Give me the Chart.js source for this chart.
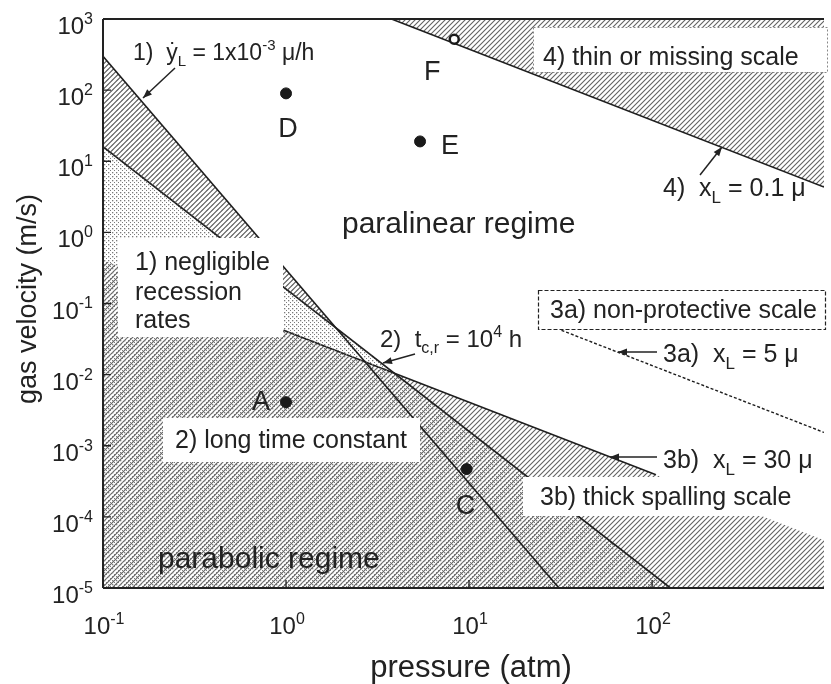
<!DOCTYPE html>
<html><head><meta charset="utf-8">
<script src="https://cdn.jsdelivr.net/npm/chart.js@4.4.0/dist/chart.umd.min.js"></script>
<style>html,body{margin:0;padding:0;background:#fff;}canvas{display:block;}</style>
</head><body>
<canvas id="c" width="831" height="684"></canvas>
<script>
const FONT = '"Liberation Sans", Arial, Helvetica, sans-serif';

// ---- tick values ----
const xTicks = [0.1, 1, 10, 100];
const xTickExp = ['-1', '0', '1', '2'];
const yTicks = [1e-5, 1e-4, 1e-3, 1e-2, 1e-1, 1, 10, 100, 1000];
const yTickExp = ['-5', '-4', '-3', '-2', '-1', '0', '1', '2', '3'];

// ---- boundary lines (pressure atm, gas velocity m/s) ----
const line1X = [0.1, 31];        const line1Y = [300, 1e-5];      // 1) yL = 1e-3 u/h (slope -3)
const line2X = [0.1, 126];       const line2Y = [16, 1e-5];       // 2) tc,r = 1e4 h (slope -2)
const line3bX = [0.97, 105];     const line3bY = [0.042, 3.9e-4]; // 3b) xL = 30 u
const line3bAreaX = [0.1, 870];  const line3bAreaY = [0.41, 4.7e-5];
const line3aX = [32, 870];       const line3aY = [0.042, 1.54e-3]; // 3a) xL = 5 u
const line4X = [3.77, 870];      const line4Y = [1000, 4.33];      // 4) xL = 0.1 u

// ---- cases ----
const pointNames = ['A', 'C', 'D', 'E'];
const pointX = [1.0, 9.7, 1.0, 5.4];
const pointY = [4.1e-3, 4.7e-4, 90, 19];
const openNames = ['F'];
const openX = [8.3];
const openY = [520];

const xy = (xs, ys) => xs.map((v, i) => ({x: v, y: ys[i]}));

function makePattern(kind) {
  const c = document.createElement('canvas');
  const s = kind === 'S' ? 4 : 5;
  c.width = s; c.height = s;
  const g = c.getContext('2d');
  if (kind === 'S') {
    g.fillStyle = '#7a7a7a';
    g.fillRect(0, 0, 1.3, 1.3);
    g.fillRect(2, 2, 1, 1);
  } else {
    g.strokeStyle = kind === 'H2' ? '#5a5a5a' : '#626262';
    g.lineWidth = kind === 'H2' ? 1.2 : 1.1;
    const o = kind === 'H2' ? 2.5 : 0;
    g.beginPath();
    for (let k = -2; k <= 2; k++) {
      const c0 = k * s + o;
      g.moveTo(-1, s + c0 + 1); g.lineTo(s + 1, c0 - 1);
    }
    g.stroke();
  }
  return document.getElementById('c').getContext('2d').createPattern(c, 'repeat');
}
const patH = makePattern('H');
const patH2 = makePattern('H2');
const patS = makePattern('S');

function fontFor(mode, size) {
  return (mode ? Math.round(size * 0.66) : size) + 'px ' + FONT;
}
function richWidth(ctx, parts, size) {
  let w = 0;
  for (const [t, m] of parts) { ctx.font = fontFor(m, size); w += ctx.measureText(t).width; }
  return w;
}
function drawRich(ctx, x, y, parts, size, align) {
  const w = richWidth(ctx, parts, size);
  let cx = align === 'center' ? x - w / 2 : (align === 'right' ? x - w : x);
  ctx.textAlign = 'left';
  ctx.textBaseline = 'alphabetic';
  for (const [t, m] of parts) {
    ctx.font = fontFor(m, size);
    const dy = m === 'sub' ? size * 0.26 : (m === 'sup' ? -size * 0.42 : 0);
    ctx.fillText(t, cx, y + dy);
    cx += ctx.measureText(t).width;
  }
}
function arrow(ctx, x1, y1, x2, y2) {
  ctx.save();
  ctx.strokeStyle = '#222'; ctx.fillStyle = '#222'; ctx.lineWidth = 1.5;
  ctx.beginPath(); ctx.moveTo(x1, y1); ctx.lineTo(x2, y2); ctx.stroke();
  const a = Math.atan2(y2 - y1, x2 - x1), L = 9, W = 3.5;
  ctx.beginPath();
  ctx.moveTo(x2, y2);
  ctx.lineTo(x2 - L * Math.cos(a) + W * Math.sin(a), y2 - L * Math.sin(a) - W * Math.cos(a));
  ctx.lineTo(x2 - L * Math.cos(a) - W * Math.sin(a), y2 - L * Math.sin(a) + W * Math.cos(a));
  ctx.closePath(); ctx.fill();
  ctx.restore();
}

const boxes = [
  {x: 118, y: 238, w: 165, h: 99},
  {x: 163, y: 418, w: 257, h: 44},
  {x: 523, y: 477, w: 282, h: 39},
  {x: 533, y: 27, w: 294, h: 45, border: 'dot'},
  {x: 538, y: 290, w: 287, h: 39, border: 'dash'}
];
const labels = [
  {x: 133, y: 60, s: 23, p: [['1)  ẏ', ''], ['L', 'sub'], [' = 1x10', ''], ['-3', 'sup'], [' μ/h', '']]},
  {x: 543, y: 65, s: 25, p: [['4) thin or missing scale', '']]},
  {x: 663, y: 196, s: 25, p: [['4)  x', ''], ['L', 'sub'], [' = 0.1 μ', '']]},
  {x: 342, y: 233, s: 30, p: [['paralinear regime', '']]},
  {x: 135, y: 270, s: 25, p: [['1) negligible', '']]},
  {x: 135, y: 300, s: 25, p: [['recession', '']]},
  {x: 135, y: 328, s: 25, p: [['rates', '']]},
  {x: 550, y: 318, s: 25, p: [['3a) non-protective scale', '']]},
  {x: 380, y: 347, s: 24, p: [['2)  t', ''], ['c,r', 'sub'], [' = 10', ''], ['4', 'sup'], [' h', '']]},
  {x: 663, y: 362, s: 25, p: [['3a)  x', ''], ['L', 'sub'], [' = 5 μ', '']]},
  {x: 175, y: 448, s: 25, p: [['2) long time constant', '']]},
  {x: 663, y: 468, s: 25, p: [['3b)  x', ''], ['L', 'sub'], [' = 30 μ', '']]},
  {x: 540, y: 505, s: 25, p: [['3b) thick spalling scale', '']]},
  {x: 158, y: 568, s: 30, p: [['parabolic regime', '']]}
];
const arrows = [
  [175, 68, 143, 98], [700, 175, 722, 147], [657, 352, 618, 352],
  [657, 457, 610, 457], [415, 354, 383, 363]
];
// label offsets (pixels) relative to each case point
const pointLabelOffset = {A: [-25, 8], C: [-1, 45], D: [2, 44], E: [30, 13], F: [-22, 41]};

const decor = {
  id: 'decor',
  afterDatasetsDraw(chart) {
    const ctx = chart.ctx;
    ctx.save();
    for (const b of boxes) {
      ctx.fillStyle = '#fff';
      ctx.fillRect(b.x, b.y, b.w, b.h);
      if (b.border) {
        ctx.strokeStyle = b.border === 'dash' ? '#222' : '#888';
        ctx.lineWidth = b.border === 'dash' ? 1.2 : 1;
        ctx.setLineDash(b.border === 'dash' ? [4, 2] : [2, 2]);
        ctx.strokeRect(b.x + 0.5, b.y + 0.5, b.w, b.h);
        ctx.setLineDash([]);
      }
    }
    ctx.fillStyle = '#222';
    for (const l of labels) drawRich(ctx, l.x, l.y, l.p, l.s, 'left');
    for (const a of arrows) arrow(ctx, a[0], a[1], a[2], a[3]);
    const xs = chart.scales.x, ys = chart.scales.y;
    ctx.fillStyle = '#222';
    ctx.font = '27px ' + FONT;
    ctx.textAlign = 'center'; ctx.textBaseline = 'alphabetic';
    const allN = pointNames.concat(openNames), allX = pointX.concat(openX), allY = pointY.concat(openY);
    allN.forEach((n, i) => {
      const px = xs.getPixelForValue(allX[i]), py = ys.getPixelForValue(allY[i]);
      const o = pointLabelOffset[n];
      ctx.fillText(n, px + o[0], py + o[1]);
    });
    ctx.restore();
  },
  afterDraw(chart) {
    const ctx = chart.ctx, ca = chart.chartArea;
    const xs = chart.scales.x, ys = chart.scales.y;
    ctx.save();
    ctx.strokeStyle = '#222'; ctx.lineWidth = 2;
    ctx.beginPath();
    ctx.moveTo(ca.left, ca.top); ctx.lineTo(ca.right, ca.top);
    ctx.moveTo(ca.left, ca.top); ctx.lineTo(ca.left, ca.bottom);
    ctx.moveTo(ca.left, ca.bottom); ctx.lineTo(ca.right, ca.bottom);
    ctx.stroke();
    ctx.lineWidth = 1.3;
    ctx.beginPath();
    ys.ticks.forEach(t => {
      const y = ys.getPixelForValue(t.value);
      ctx.moveTo(ca.left, y); ctx.lineTo(ca.left + 8, y);
    });
    xs.ticks.forEach(t => {
      const x = xs.getPixelForValue(t.value);
      ctx.moveTo(x, ca.bottom); ctx.lineTo(x, ca.bottom - 8);
    });
    ctx.stroke();
    ctx.fillStyle = '#222';
    ys.ticks.forEach((t, i) => {
      const y = ys.getPixelForValue(t.value);
      drawRich(ctx, ca.left - 10, y + 15, [['10', ''], [yTickExp[i], 'sup']], 24, 'right');
    });
    xs.ticks.forEach((t, i) => {
      const x = xs.getPixelForValue(t.value);
      drawRich(ctx, x + 1, ca.bottom + 46, [['10', ''], [xTickExp[i], 'sup']], 24, 'center');
    });
    ctx.font = '31px ' + FONT;
    ctx.textAlign = 'center'; ctx.textBaseline = 'alphabetic';
    ctx.fillText('pressure (atm)', 471, 677);
    ctx.save();
    ctx.translate(36, 299);
    ctx.rotate(-Math.PI / 2);
    ctx.font = '27px ' + FONT;
    ctx.fillText('gas velocity (m/s)', 0, 0);
    ctx.restore();
    ctx.restore();
  }
};

const lineStyle = {borderColor: '#1e1e1e', borderWidth: 1.6, pointRadius: 0, showLine: true, tension: 0};

new Chart(document.getElementById('c'), {
  type: 'line',
  data: {
    datasets: [
      {label: 'cases', data: xy(pointX, pointY), showLine: false, pointRadius: 5.5,
       pointBackgroundColor: '#1a1a1a', pointBorderColor: '#1a1a1a', pointBorderWidth: 1, fill: false},
      {label: 'case F', data: xy(openX, openY), showLine: false, pointRadius: 4.5,
       pointBackgroundColor: '#fff', pointBorderColor: '#1a1a1a', pointBorderWidth: 2.5, fill: false},
      Object.assign({label: '1) yL = 1e-3 u/h', data: xy(line1X, line1Y),
       fill: {target: 3, above: patH2, below: 'rgba(0,0,0,0)'}}, lineStyle),
      Object.assign({label: '2) tc,r = 1e4 h', data: xy(line2X, line2Y),
       fill: {target: 'start', above: patS, below: patS}}, lineStyle),
      Object.assign({label: '3b) xL = 30 u', data: xy(line3bX, line3bY), fill: false}, lineStyle),
      {label: '3b area', data: xy(line3bAreaX, line3bAreaY), borderWidth: 0, borderColor: 'rgba(0,0,0,0)',
       pointRadius: 0, fill: {target: 'start', above: patH, below: patH}},
      Object.assign({label: '3a) xL = 5 u', data: xy(line3aX, line3aY), fill: false,
       borderDash: [3, 2]}, lineStyle, {borderWidth: 1.4}),
      Object.assign({label: '4) xL = 0.1 u', data: xy(line4X, line4Y),
       fill: {target: 'end', above: patH, below: patH}}, lineStyle)
    ]
  },
  options: {
    responsive: false,
    animation: false,
    devicePixelRatio: 1,
    events: [],
    layout: {padding: {left: 103, top: 19, right: 0, bottom: 96}},
    plugins: {legend: {display: false}, tooltip: {enabled: false}, filler: {propagate: false}},
    scales: {
      x: {type: 'logarithmic', min: 0.1, max: 870, position: 'bottom',
          ticks: {display: false}, grid: {display: false, drawTicks: false}, border: {display: false},
          afterBuildTicks: s => { s.ticks = xTicks.map(v => ({value: v})); }},
      y: {type: 'logarithmic', min: 1e-5, max: 1000, position: 'left',
          ticks: {display: false}, grid: {display: false, drawTicks: false}, border: {display: false},
          afterBuildTicks: s => { s.ticks = yTicks.map(v => ({value: v})); }}
    }
  },
  plugins: [decor]
});
</script>
</body></html>
